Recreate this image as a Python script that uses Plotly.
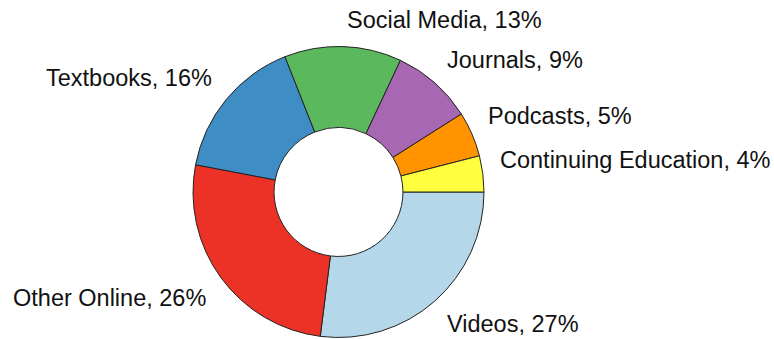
import math
import plotly.graph_objects as go

# Share of information sources, listed clockwise from 3 o'clock
sources = ["Videos", "Other Online", "Textbooks", "Social Media",
           "Journals", "Podcasts", "Continuing Education"]
shares = [27, 26, 16, 13, 9, 5, 4]
slice_colors = ["#b4d7ea", "#ec3226", "#3f8dc5", "#5cb85c",
                "#a867b2", "#ff9400", "#ffff3f"]

W, H = 774, 339
cx, cy, R = 338.5, 192.0, 145.5   # pie centre and radius in pixels
hole = 0.443
font_family = "Liberation Sans, Arial, Helvetica, sans-serif"

fig = go.Figure(go.Pie(
    labels=sources,
    values=shares,
    sort=False,
    direction="clockwise",
    rotation=90,
    hole=hole,
    textinfo="none",
    hoverinfo="label+percent",
    marker=dict(colors=slice_colors, line=dict(color="#222222", width=1)),
    domain=dict(x=[(cx - R) / W, (cx + R) / W],
                y=[1 - (cy + R) / H, 1 - (cy - R) / H]),
    showlegend=False,
))

# Outside labels placed at each slice's mid-angle
total = sum(shares)
cum = 0.0
annotations = []
for name, v in zip(sources, shares):
    mid = (cum + v / 2) / total * 2 * math.pi   # clockwise from 3 o'clock
    cum += v
    dx, dy = math.cos(mid), math.sin(mid)        # screen coords (y down)
    px = cx + 1.1 * R * dx
    py = cy + 1.1 * R * dy
    annotations.append(dict(
        x=px / W, y=1 - py / H, xref="paper", yref="paper",
        text=f"{name}, {v}%", showarrow=False,
        xanchor="left" if dx > 0 else "right",
        yanchor="middle",
        xshift=1 if dx > 0 else -1,
        yshift=12 if dy < 0 else -12,
        font=dict(family=font_family, size=23.5, color="#111111"),
    ))

fig.update_layout(
    width=W, height=H,
    margin=dict(l=0, r=0, t=0, b=0),
    paper_bgcolor="white",
    plot_bgcolor="white",
    annotations=annotations,
)

fig.write_html("out.html")
